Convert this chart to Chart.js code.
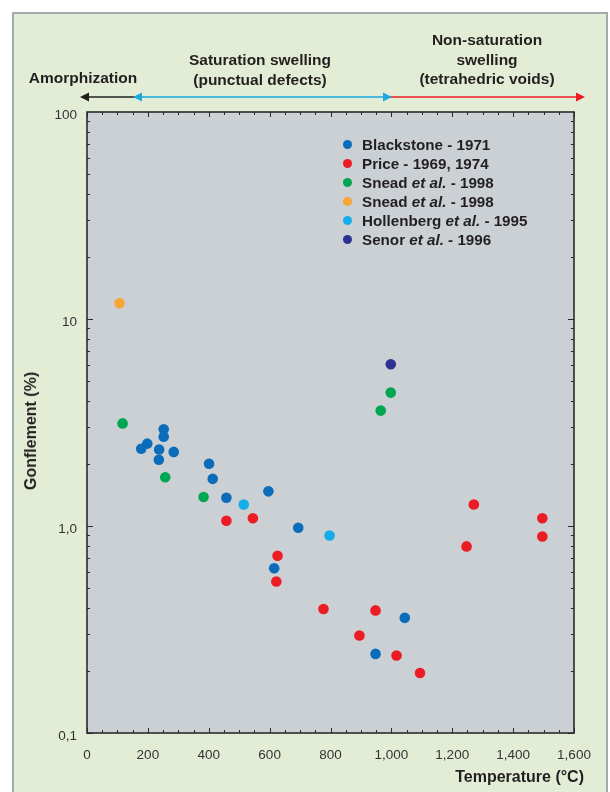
<!DOCTYPE html>
<html><head><meta charset="utf-8">
<script src="https://cdn.jsdelivr.net/npm/chart.js@4/dist/chart.umd.min.js"></script>
<style>
html,body{margin:0;padding:0;background:#fff;}
body{width:610px;height:792px;position:relative;overflow:hidden;font-family:"Liberation Sans",Arial,Helvetica,sans-serif;}
#frame{position:absolute;left:12px;top:12px;width:596px;height:800px;background:#e3edd6;border:2px solid #a2abaf;box-sizing:border-box;}
#c{position:absolute;left:0;top:0;}
.t{position:absolute;font-weight:bold;font-size:15.5px;color:#231f20;text-align:center;line-height:19.5px;white-space:nowrap;transform:translateX(-50%);}
#legend{position:absolute;left:343px;top:135px;}
.row{display:flex;align-items:center;height:19px;font-weight:bold;font-size:15.2px;color:#231f20;white-space:nowrap;}
.dot{width:9px;height:9px;border-radius:50%;margin-right:10px;}
#ytitle{position:absolute;left:31px;top:431px;transform:translate(-50%,-50%) rotate(-90deg);font-weight:bold;font-size:16px;color:#231f20;white-space:nowrap;}
#xtitle{position:absolute;right:26px;top:768px;font-weight:bold;font-size:16px;color:#231f20;white-space:nowrap;}
</style>
</head><body>
<div id="frame"></div>
<canvas id="c" width="610" height="792" style="width:610px;height:792px"></canvas>
<div class="t" style="left:83px;top:68px">Amorphization</div>
<div class="t" style="left:260px;top:50px">Saturation swelling<br>(punctual defects)</div>
<div class="t" style="left:487px;top:30px">Non-saturation<br>swelling<br>(tetrahedric voids)</div>
<div id="legend"></div>
<div id="ytitle">Gonflement (%)</div>
<div id="xtitle">Temperature (°C)</div>
<script>
// ---- Data ----
const seriesNames = ['Blackstone - 1971','Price - 1969, 1974','Snead et al. - 1998','Snead et al. - 1998','Hollenberg et al. - 1995','Senor et al. - 1996'];
const seriesColors = ['#0b6dba','#ec1c24','#00a651','#f7a533','#13aee9','#2e3192'];

const blackstoneT = [178,198,237,236,252,252,285,401,413,458,596,694,615,1044,948];
const blackstoneG = [2.36,2.50,2.34,2.09,2.93,2.70,2.28,2.00,1.69,1.37,1.47,0.98,0.625,0.36,0.241];
const priceT = [458,545,626,622,777,948,895,1017,1094,1271,1496,1496,1247];
const priceG = [1.06,1.09,0.718,0.539,0.397,0.391,0.296,0.237,0.195,1.27,1.09,0.89,0.797];
const sneadGreenT = [117,257,383,965,998];
const sneadGreenG = [3.13,1.72,1.38,3.61,4.41];
const sneadOrangeT = [107];
const sneadOrangeG = [11.9];
const hollenbergT = [515,797];
const hollenbergG = [1.27,0.90];
const senorT = [998];
const senorG = [6.05];

const xTickValues = [0,200,400,600,800,1000,1200,1400,1600];
const xTickLabels = ['0','200','400','600','800','1,000','1,200','1,400','1,600'];
const yTickValues = [0.1,1,10,100];
const yTickLabels = ['0,1','1,0','10','100'];

const seriesT = [blackstoneT,priceT,sneadGreenT,sneadOrangeT,hollenbergT,senorT];
const seriesG = [blackstoneG,priceG,sneadGreenG,sneadOrangeG,hollenbergG,senorG];

const datasets = seriesNames.map((name,i)=>({
  label:name,
  data: seriesT[i].map((t,j)=>({x:t,y:seriesG[i][j]})),
  backgroundColor: seriesColors[i],
  borderWidth:0,
  pointRadius:5.3,
  showLine:false
}));

// legend (HTML)
const lg = document.getElementById('legend');
seriesNames.forEach((n,i)=>{
  const r = document.createElement('div'); r.className='row';
  const d = document.createElement('span'); d.className='dot'; d.style.background=seriesColors[i];
  const s = document.createElement('span');
  s.innerHTML = n.replace('et al.','<i>et al.</i>');
  r.appendChild(d); r.appendChild(s); lg.appendChild(r);
});

function arrow(ctx,x1,x2,y,color,headL,headR){
  ctx.strokeStyle=color; ctx.fillStyle=color; ctx.lineWidth=1.6;
  ctx.beginPath(); ctx.moveTo(x1+(headL?6:0),y); ctx.lineTo(x2-(headR?6:0),y); ctx.stroke();
  const hl=9, hw=4.5;
  if(headL){ctx.beginPath();ctx.moveTo(x1,y);ctx.lineTo(x1+hl,y-hw);ctx.lineTo(x1+hl,y+hw);ctx.closePath();ctx.fill();}
  if(headR){ctx.beginPath();ctx.moveTo(x2,y);ctx.lineTo(x2-hl,y-hw);ctx.lineTo(x2-hl,y+hw);ctx.closePath();ctx.fill();}
}

const deco = {
  id:'deco',
  beforeDraw(chart){
    const {ctx, chartArea:a} = chart;
    ctx.save();
    ctx.fillStyle='#cbd0d4';
    ctx.fillRect(a.left,a.top,a.right-a.left,a.bottom-a.top);
    arrow(ctx,80,136,97,'#231f20',true,false);
    arrow(ctx,390,585,97,'#ec1c24',false,true);
    arrow(ctx,133,392,97,'#1ba9df',true,true);
    ctx.restore();
  },
  afterDraw(chart){
    const {ctx, chartArea:a, scales} = chart;
    const x = scales.x, y = scales.y;
    ctx.save();
    ctx.strokeStyle='#2a2a2a'; ctx.lineWidth=1;
    const ln=(x1,y1,x2,y2)=>{ctx.beginPath();ctx.moveTo(x1,y1);ctx.lineTo(x2,y2);ctx.stroke();};
    for(let v=0; v<=1600; v+=50){
      const px = Math.round(x.getPixelForValue(v))+0.5;
      const L = v%200===0?5:3;
      ln(px,a.bottom,px,a.bottom-L); ln(px,a.top,px,a.top+L);
    }
    for(let d=-1; d<=1; d++){
      for(let m=1; m<=9; m++){
        const v = m*Math.pow(10,d);
        const py = Math.round(y.getPixelForValue(v))+0.5;
        const L = m===1?6:3;
        ln(a.left,py,a.left+L,py); ln(a.right,py,a.right-L,py);
      }
    }
    ctx.lineWidth=1.6;
    ctx.strokeRect(a.left,a.top,a.right-a.left,a.bottom-a.top);
    ctx.restore();
  }
};

new Chart(document.getElementById('c'),{
  type:'scatter',
  data:{datasets},
  plugins:[deco],
  options:{
    responsive:false, animation:false,
    layout:{padding:{left:20,top:112,right:36,bottom:0}},
    plugins:{legend:{display:false},tooltip:{enabled:false}},
    scales:{
      x:{
        type:'linear', min:0, max:1600,
        afterBuildTicks:s=>{s.ticks = xTickValues.map(v=>({value:v}));},
        afterFit:s=>{s.height=59;},
        grid:{display:false,drawTicks:false}, border:{display:false},
        ticks:{padding:14,color:'#333',font:{family:'"Liberation Sans",Arial,sans-serif',size:13.5},maxRotation:0,autoSkip:false,
          callback:(v,i)=>xTickLabels[i]}
      },
      y:{
        type:'logarithmic', min:0.1, max:100,
        afterBuildTicks:s=>{s.ticks = yTickValues.map(v=>({value:v}));},
        afterFit:s=>{s.width=67;},
        grid:{display:false,drawTicks:false}, border:{display:false},
        ticks:{padding:10,labelOffset:3,color:'#333',font:{family:'"Liberation Sans",Arial,sans-serif',size:13.5},autoSkip:false,
          callback:(v,i)=>yTickLabels[i]}
      }
    }
  }
});
</script>
</body></html>
